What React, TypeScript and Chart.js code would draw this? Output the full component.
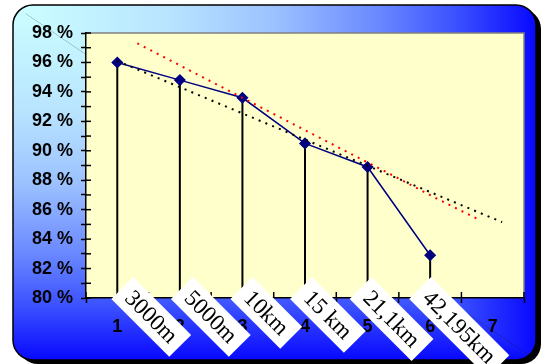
import React, { useEffect, useRef } from 'react';
import { Chart, registerables } from 'chart.js';

Chart.register(...registerables);

// Share of the best 3000m pace held over longer distances
const positions = [1, 2, 3, 4, 5, 6];
const shares = [96.0, 94.8, 93.6, 90.5, 88.9, 82.9];
const distanceLabels = ['3000m', '5000m', '10km', '15 km', '21,1km', '42,195km'];

// Linear trend (black dotted)
const linearTrendX = [1, 7.15];
const linearTrendY = [96.1, 85.15];

// Fitted curve (red dotted)
const curveTrendX = [1.32, 3.15, 4.51, 5.41, 6.1, 6.79];
const curveTrendY = [97.3, 93.27, 90.28, 88.31, 86.77, 85.3];

const xMin = 0.5;
const xMax = 7.5;
const yMin = 80;
const yMax = 98;

const sansBold = { family: '"Liberation Sans", Arial, sans-serif', size: 18, weight: 'bold' as const };

function roundRect(ctx: CanvasRenderingContext2D, x: number, y: number, w: number, h: number, r: number) {
  ctx.beginPath();
  ctx.moveTo(x + r, y);
  ctx.lineTo(x + w - r, y);
  ctx.arcTo(x + w, y, x + w, y + r, r);
  ctx.lineTo(x + w, y + h - r);
  ctx.arcTo(x + w, y + h, x + w - r, y + h, r);
  ctx.lineTo(x + r, y + h);
  ctx.arcTo(x, y + h, x, y + h - r, r);
  ctx.lineTo(x, y + r);
  ctx.arcTo(x, y, x + r, y, r);
  ctx.closePath();
}

function addStops(g: CanvasGradient) {
  g.addColorStop(0, '#ccffff');
  g.addColorStop(0.3, '#b8e4ff');
  g.addColorStop(0.5, '#9cc2ff');
  g.addColorStop(0.7, '#6a88ff');
  g.addColorStop(0.85, '#3a50ff');
  g.addColorStop(1, '#0808ff');
}

const framePlugin = {
  id: 'frame',
  beforeDraw(chart: any) {
    const ctx: CanvasRenderingContext2D = chart.ctx;
    const x0 = 13, y0 = 5, x1 = 536, y1 = 360, r = 20;
    ctx.save();
    ctx.fillStyle = '#ffffff';
    ctx.fillRect(0, 0, chart.width, chart.height);
    // drop shadow
    roundRect(ctx, x0 + 5, y0 + 4, x1 - x0, y1 - y0, r);
    ctx.fillStyle = '#000000';
    ctx.fill();
    // corner gradient: max(horizontal, vertical) progress
    ctx.save();
    roundRect(ctx, x0, y0, x1 - x0, y1 - y0, r);
    ctx.clip();
    const gh = ctx.createLinearGradient(x0, 0, x1, 0);
    addStops(gh);
    const gv = ctx.createLinearGradient(0, y0, 0, y1);
    addStops(gv);
    const w = x1 - x0, h = y1 - y0;
    // upper-right part: horizontal progress dominates
    ctx.beginPath();
    ctx.moveTo(x0, y0);
    ctx.lineTo(x1, y0);
    ctx.lineTo(x1, y1);
    ctx.closePath();
    ctx.fillStyle = gh;
    ctx.fill();
    // lower-left part: vertical progress dominates
    ctx.beginPath();
    ctx.moveTo(x0, y0);
    ctx.lineTo(x0, y1);
    ctx.lineTo(x1, y1);
    ctx.closePath();
    ctx.fillStyle = gv;
    ctx.fill();
    ctx.restore();
    roundRect(ctx, x0, y0, w, h, r);
    ctx.lineWidth = 1.5;
    ctx.strokeStyle = '#000000';
    ctx.stroke();

    // plot area
    const a = chart.chartArea;
    ctx.fillStyle = '#ffffcc';
    ctx.fillRect(a.left, a.top, a.right - a.left, a.bottom - a.top);
    ctx.beginPath();
    ctx.moveTo(a.left, a.top);
    ctx.lineTo(a.right, a.top);
    ctx.lineTo(a.right, a.bottom);
    ctx.strokeStyle = '#808080';
    ctx.lineWidth = 1.5;
    ctx.stroke();
    ctx.restore();
  },
  beforeDatasetsDraw(chart: any) {
    const ctx: CanvasRenderingContext2D = chart.ctx;
    const a = chart.chartArea;
    const xs = chart.scales.x;
    const ys = chart.scales.y;
    ctx.save();
    // drop lines from each point to the axis
    ctx.strokeStyle = '#000000';
    ctx.lineWidth = 2;
    positions.forEach((p, i) => {
      const px = xs.getPixelForValue(p);
      const py = ys.getPixelForValue(shares[i]);
      ctx.beginPath();
      ctx.moveTo(px, py);
      ctx.lineTo(px, a.bottom);
      ctx.stroke();
    });
    // inner halves of the axis tick marks
    ctx.lineWidth = 1.5;
    for (let v = yMin; v <= yMax; v += 1) {
      const py = ys.getPixelForValue(v);
      ctx.beginPath();
      ctx.moveTo(a.left, py);
      ctx.lineTo(a.left + 5, py);
      ctx.stroke();
    }
    for (let v = xMin; v <= xMax; v += 1) {
      const px = xs.getPixelForValue(v);
      ctx.beginPath();
      ctx.moveTo(px, a.bottom);
      ctx.lineTo(px, a.bottom - 6);
      ctx.stroke();
    }
    ctx.restore();
  },
  afterDraw(chart: any) {
    const ctx: CanvasRenderingContext2D = chart.ctx;
    const a = chart.chartArea;
    const xs = chart.scales.x;
    ctx.save();
    ctx.font = '23px "Liberation Serif", "Times New Roman", serif';
    const h = 31;
    distanceLabels.forEach((label, i) => {
      const px = xs.getPixelForValue(positions[i]) + 5 - 3 * i;
      const py = a.bottom - 10;
      const w = ctx.measureText(label).width + 18;
      ctx.save();
      ctx.translate(px, py);
      ctx.rotate(Math.PI / 4);
      ctx.fillStyle = '#ffffff';
      ctx.fillRect(0, -h / 2, w, h);
      ctx.fillStyle = '#000000';
      ctx.textAlign = 'center';
      ctx.textBaseline = 'middle';
      ctx.fillText(label, w / 2, 1);
      ctx.restore();
    });
    ctx.restore();
  },
};

export default function App() {
  const canvasRef = useRef<HTMLCanvasElement | null>(null);

  useEffect(() => {
    const canvas = canvasRef.current;
    if (!canvas) return;
    const chart = new Chart(canvas, {
      type: 'line',
      data: {
        datasets: [
          {
            label: 'linear trend',
            data: linearTrendX.map((x, i) => ({ x, y: linearTrendY[i] })),
            borderColor: '#000000',
            borderWidth: 2,
            borderDash: [2, 5.3],
            pointRadius: 0,
            fill: false,
            order: 0,
          },
          {
            label: 'curve trend',
            data: curveTrendX.map((x, i) => ({ x, y: curveTrendY[i] })),
            borderColor: '#ff0000',
            borderWidth: 2,
            borderDash: [2, 5.3],
            pointRadius: 0,
            tension: 0.4,
            cubicInterpolationMode: 'monotone',
            fill: false,
            order: 0,
          },
          {
            label: 'share',
            data: positions.map((x, i) => ({ x, y: shares[i] })),
            borderColor: '#000080',
            borderWidth: 1.5,
            pointStyle: 'rectRot',
            pointRadius: 5,
            pointBackgroundColor: '#000080',
            pointBorderColor: '#000080',
            fill: false,
            order: 1,
          },
        ],
      },
      options: {
        responsive: false,
        animation: false,
        events: [],
        layout: { padding: { left: 0, top: 33, right: 18, bottom: 0 } },
        plugins: { legend: { display: false }, tooltip: { enabled: false } },
        scales: {
          x: {
            type: 'linear',
            min: xMin,
            max: xMax,
            afterFit: (scale: any) => {
              scale.height = 66;
            },
            ticks: {
              stepSize: 0.5,
              autoSkip: false,
              maxRotation: 0,
              padding: 13,
              color: '#000000',
              font: sansBold,
              callback: (v: any) => (Number.isInteger(v) ? String(v) : ''),
            },
            grid: {
              drawOnChartArea: false,
              tickLength: 5,
              tickWidth: 1.5,
              tickColor: (c: any) => (Number.isInteger(c.tick?.value) ? 'rgba(0,0,0,0)' : '#000000'),
            },
            border: { color: '#000000', width: 1.5 },
          },
          y: {
            min: yMin,
            max: yMax,
            afterFit: (scale: any) => {
              scale.width = 86;
            },
            ticks: {
              stepSize: 1,
              autoSkip: false,
              padding: 8,
              color: '#000000',
              font: sansBold,
              callback: (v: any) => (v % 2 === 0 ? `${v} %` : ''),
            },
            grid: {
              drawOnChartArea: false,
              tickLength: 5,
              tickWidth: 1.5,
              tickColor: '#000000',
            },
            border: { color: '#000000', width: 1.5 },
          },
        },
      },
      plugins: [framePlugin],
    } as any);
    return () => chart.destroy();
  }, []);

  return (
    <div style={{ position: 'fixed', left: 0, top: 0, width: 542, height: 364 }}>
      <canvas ref={canvasRef} width={542} height={364} style={{ display: 'block' }} />
    </div>
  );
}
